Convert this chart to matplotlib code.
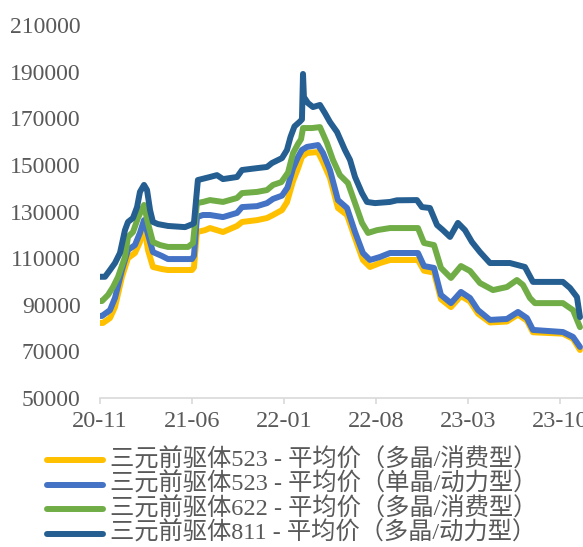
import matplotlib
matplotlib.use("Agg")
import matplotlib.pyplot as plt
from matplotlib.lines import Line2D

# x values are months counted from 2020-11
tick_pos = [0, 7, 14, 21, 28, 35]
tick_labels = ["20-11", "21-06", "22-01", "22-08", "23-03", "23-10"]

# 三元前驱体523 (多晶/消费型)
x_523c = [0, 0.23, 0.76, 1.14, 1.67, 2.13, 2.66, 3.04, 3.35, 3.65, 4.03, 4.72, 5.17, 7.00, 7.15,
          7.38, 7.99, 8.37, 9.36, 10.43, 10.81, 11.95, 12.71, 13.17, 13.85, 14.23, 14.69, 15.07,
          15.37, 15.75, 16.59, 16.97, 17.50, 18.11, 18.80, 19.41, 20.01, 20.55, 21.31, 22.07,
          24.20, 24.66, 25.42, 25.95, 26.71, 27.47, 28.16, 28.77, 29.68, 30.97, 31.81, 32.49,
          32.95, 35.23, 36.00, 36.53]
y_523c = [82200, 82200, 84300, 89000, 101900, 110000, 112200, 116900, 124200, 113500, 106200,
          105300, 104900, 104900, 106000, 121200, 122000, 122900, 121200, 123800, 125500, 126300,
          127200, 128500, 130600, 134000, 143000, 148500, 153400, 155100, 155500, 151200, 144400,
          131500, 128500, 118600, 109200, 106200, 107900, 109200, 109200, 104600, 103800, 92400,
          89000, 93800, 91400, 86200, 82400, 82800, 85800, 83200, 78200, 77600, 75400, 70600]

# 三元前驱体523 (单晶/动力型)
x_523p = [0, 0.15, 0.76, 1.14, 1.67, 2.13, 2.66, 3.04, 3.35, 3.73, 4.03, 4.72, 5.17, 7.00, 7.15,
          7.38, 7.84, 8.37, 9.36, 10.43, 10.81, 11.95, 12.71, 13.17, 13.85, 14.27, 14.69, 15.07,
          15.37, 15.75, 16.59, 16.97, 17.50, 18.11, 18.80, 19.41, 20.01, 20.55, 21.31, 22.07,
          24.20, 24.66, 25.42, 25.95, 26.71, 27.47, 28.16, 28.77, 29.68, 30.97, 31.81, 32.49,
          32.95, 35.23, 36.00, 36.53]
y_523p = [85200, 85200, 87700, 92900, 104900, 113500, 115600, 120800, 126300, 118600, 112600,
          110900, 109600, 109600, 111000, 127600, 128500, 128500, 127600, 129400, 131900, 132300,
          133600, 135400, 136800, 140300, 148500, 153400, 156400, 157700, 158500, 155100, 147800,
          134900, 131500, 121200, 112200, 109200, 110500, 112200, 112200, 106600, 105800, 94200,
          90700, 95500, 92900, 87700, 83500, 83900, 86900, 84300, 79200, 78300, 76200, 71900]

# 三元前驱体622 (多晶/消费型)
x_622c = [0, 0.15, 0.61, 0.99, 1.37, 1.90, 2.13, 2.51, 2.89, 3.35, 3.65, 4.03, 4.57, 5.17, 6.70,
          7.08, 7.38, 7.84, 8.37, 9.36, 10.43, 10.81, 11.95, 12.71, 13.17, 13.80, 14.31, 14.69,
          15.07, 15.30, 15.45, 16.13, 16.74, 17.27, 17.73, 18.26, 18.87, 19.41, 19.94, 20.40,
          21.08, 22.07, 24.20, 24.66, 25.42, 25.95, 26.71, 27.47, 28.16, 28.92, 29.91, 30.97,
          31.73, 32.19, 32.72, 33.10, 35.23, 36.00, 36.53]
y_622c = [91600, 91600, 94200, 97600, 101900, 110500, 119100, 121200, 127200, 132800, 125000,
          116900, 115600, 114800, 114800, 116500, 133600, 134100, 134900, 134100, 135800, 137900,
          138400, 139200, 141400, 142600, 146700, 155000, 159000, 161000, 165800, 165800, 166200,
          159400, 152100, 145600, 142200, 133600, 125100, 120800, 122000, 122900, 122900, 116500,
          115600, 105800, 101500, 106600, 104500, 99300, 96300, 97600, 100600, 98500, 92900,
          90700, 90700, 87700, 80400]

# 三元前驱体811 (多晶/动力型)
x_811p = [0, 0.38, 0.76, 1.14, 1.52, 1.90, 2.13, 2.51, 2.82, 3.04, 3.35, 3.58, 3.81, 4.03, 4.41,
          5.17, 6.47, 7.00, 7.15, 7.45, 8.37, 8.90, 9.36, 10.43, 10.81, 11.95, 12.71, 13.09,
          13.85, 14.23, 14.50, 14.80, 15.20, 15.37, 15.45, 15.52, 15.83, 16.21, 16.74, 17.12,
          17.50, 18.04, 18.64, 19.03, 19.41, 19.94, 20.32, 20.93, 22.07, 22.60, 24.12, 24.50,
          25.11, 25.65, 26.10, 26.64, 27.24, 27.78, 28.31, 28.92, 29.68, 31.20, 32.34, 32.95,
          35.23, 35.77, 36.30, 36.53]
y_811p = [102000, 102000, 104900, 107900, 112200, 122000, 125500, 127200, 131900, 138400, 141400,
          139200, 130600, 125500, 124600, 123800, 123300, 124500, 125000, 143500, 144800, 145600,
          143900, 144800, 147800, 148600, 149100, 150800, 152900, 156400, 162000, 166500, 168500,
          169500, 189000, 179100, 176500, 174800, 175700, 172200, 168400, 164100, 156400, 152100,
          144800, 137900, 134100, 133600, 134100, 134800, 134900, 131900, 131500, 124200, 122000,
          119100, 125100, 122000, 116900, 112600, 107900, 107900, 106200, 99800, 99800, 97200,
          93300, 84700]

series = [
    ("三元前驱体523 - 平均价（多晶/消费型）", x_523c, y_523c, "#FFC000"),
    ("三元前驱体523 - 平均价（单晶/动力型）", x_523p, y_523p, "#4472C4"),
    ("三元前驱体622 - 平均价（多晶/消费型）", x_622c, y_622c, "#70AD47"),
    ("三元前驱体811 - 平均价（多晶/动力型）", x_811p, y_811p, "#255E91"),
]

TEXT_COLOR = "#595959"
FONT = ["Liberation Serif", "Noto Sans CJK SC"]
plt.rcParams["font.family"] = FONT

fig = plt.figure(figsize=(5.83, 5.47), dpi=100)
ax = fig.add_axes([100 / 583, 1 - 398 / 547, 483 / 583, 373 / 547])

for label, xs, ys, color in series:
    ax.plot(xs, ys, color=color, linewidth=4.3, solid_joinstyle="round",
            solid_capstyle="round")

ax.set_xlim(0, 36.76)
ax.set_ylim(50000, 210000)
ax.set_yticks(range(50000, 210001, 20000))
ax.set_xticks(tick_pos)
ax.set_xticklabels(tick_labels)

for side in ["top", "right", "left"]:
    ax.spines[side].set_visible(False)
ax.spines["bottom"].set_color("#D9D9D9")
ax.spines["bottom"].set_linewidth(1.2)

ax.tick_params(axis="y", length=0, pad=14, labelsize=17, labelcolor=TEXT_COLOR)
ax.tick_params(axis="x", length=4.5, width=1.2, color="#D9D9D9", pad=5,
               labelsize=17.5, labelcolor=TEXT_COLOR)

# legend drawn by hand so the rows sit as tightly as in the original
row_y = [460, 484.5, 509, 533.5]
for (label, xs, ys, color), ry in zip(series, row_y):
    yf = 1 - ry / 547
    fig.add_artist(Line2D([47 / 583, 103 / 583], [yf, yf], color=color, linewidth=4.3,
                          solid_capstyle="round", transform=fig.transFigure))
    fig.text(110 / 583, yf, label, color=TEXT_COLOR, fontsize=17.5, va="center", ha="left",
             family=FONT)

fig.savefig("out.png", dpi=100)
